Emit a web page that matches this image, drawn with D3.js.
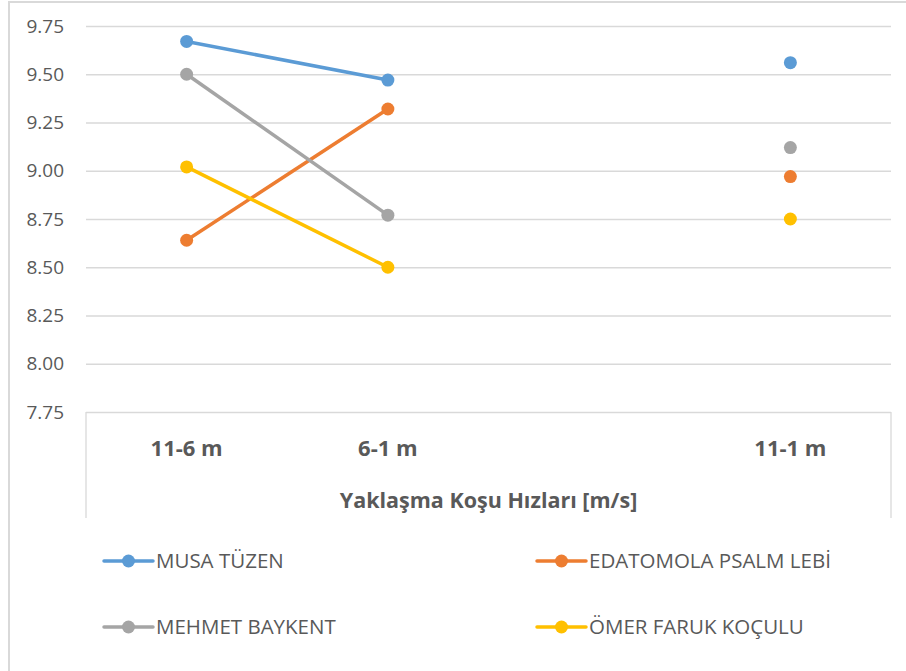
<!DOCTYPE html>
<html>
<head>
<meta charset="utf-8">
<script src="https://cdn.jsdelivr.net/npm/d3@7"></script>
<style>
  body { margin: 0; background: #fff; }
  svg { display: block; font-family: "Open Sans", sans-serif; }
</style>
</head>
<body>
<div id="chart"></div>
<script>
// categories (the empty one is the gap before 11-1 m)
var categories = ["11-6 m", "6-1 m", "", "11-1 m"];
var seriesNames = ["MUSA TÜZEN", "EDATOMOLA PSALM LEBİ", "MEHMET BAYKENT", "ÖMER FARUK KOÇULU"];
var musa = [9.67, 9.47, null, 9.56];
var edatomola = [8.64, 9.32, null, 8.97];
var mehmet = [9.50, 8.77, null, 9.12];
var omer = [9.02, 8.50, null, 8.75];
var yTicks = [7.75, 8.00, 8.25, 8.50, 8.75, 9.00, 9.25, 9.50, 9.75];
var xTitle = "Yaklaşma Koşu Hızları [m/s]";

var colors = ["#5b9bd5", "#ed7d31", "#a5a5a5", "#ffc000"];
var allSeries = [musa, edatomola, mehmet, omer];

var W = 906, H = 671;
var plot = { left: 86, right: 891, top: 26, bottom: 412 };
var textColor = "#595959";
var gridColor = "#d9d9d9";

var svg = d3.select("#chart").append("svg")
    .attr("width", W)
    .attr("height", H);

// outer frame (runs past the window on the right and bottom)
svg.append("rect")
    .attr("x", 9).attr("y", 2)
    .attr("width", 1000).attr("height", 1000)
    .attr("fill", "#fff")
    .attr("stroke", gridColor)
    .attr("stroke-width", 2);

var x = d3.scaleBand()
    .domain(categories.map(function(d, i) { return i; }))
    .range([plot.left, plot.right])
    .padding(0);

var y = d3.scaleLinear()
    .domain([7.75, 9.75])
    .range([plot.bottom, plot.top]);

// gridlines + y labels
var yAxis = d3.axisLeft(y)
    .tickValues(yTicks)
    .tickFormat(d3.format(".2f"))
    .tickSize(-(plot.right - plot.left))
    .tickPadding(22);

var gy = svg.append("g")
    .attr("transform", "translate(" + plot.left + ",0)")
    .call(yAxis)
    .attr("font-family", null);
gy.select(".domain").remove();
gy.selectAll("line").attr("stroke", gridColor).attr("stroke-width", 1.3);
gy.selectAll("text")
    .attr("fill", textColor)
    .style("font-size", "19px");

// box under the plot that holds the category labels and title
var boxBottom = 518;
svg.append("path")
    .attr("d", "M" + plot.left + "," + boxBottom + "V" + plot.bottom + "M" + plot.right + "," + plot.bottom + "V" + boxBottom)
    .attr("fill", "none")
    .attr("stroke", gridColor)
    .attr("stroke-width", 1.3);

// category labels
var xAxis = d3.axisBottom(x)
    .tickFormat(function(i) { return categories[i]; })
    .tickSize(0)
    .tickPadding(28);

var gx = svg.append("g")
    .attr("transform", "translate(0," + plot.bottom + ")")
    .call(xAxis)
    .attr("font-family", null);
gx.select(".domain").remove();
gx.selectAll("text")
    .attr("fill", textColor)
    .style("font-size", "22px")
    .style("font-weight", "bold");

svg.append("text")
    .attr("x", (plot.left + plot.right) / 2)
    .attr("y", 508)
    .attr("text-anchor", "middle")
    .attr("fill", textColor)
    .style("font-size", "21.5px")
    .style("font-weight", "bold")
    .text(xTitle);

// lines and markers
var line = d3.line()
    .defined(function(d) { return d.v != null; })
    .x(function(d) { return x(d.i) + x.bandwidth() / 2; })
    .y(function(d) { return y(d.v); });

allSeries.forEach(function(vals, s) {
    var pts = vals.map(function(v, i) { return { i: i, v: v }; });
    svg.append("path")
        .datum(pts)
        .attr("d", line)
        .attr("fill", "none")
        .attr("stroke", colors[s])
        .attr("stroke-width", 3.5)
        .attr("stroke-linejoin", "round");
    svg.selectAll(".dot" + s)
        .data(pts.filter(function(d) { return d.v != null; }))
        .enter()
        .append("circle")
        .attr("cx", function(d) { return x(d.i) + x.bandwidth() / 2; })
        .attr("cy", function(d) { return y(d.v); })
        .attr("r", 6.5)
        .attr("fill", colors[s]);
});

// legend
var legendX = [104, 537];
var legendY = [561, 627];
seriesNames.forEach(function(name, s) {
    var lx = legendX[s % 2], ly = legendY[Math.floor(s / 2)];
    var g = svg.append("g").attr("transform", "translate(" + lx + "," + ly + ")");
    g.append("line")
        .attr("x1", 0).attr("x2", 49)
        .attr("stroke", colors[s])
        .attr("stroke-width", 3.5)
        .attr("stroke-linecap", "round");
    g.append("circle")
        .attr("cx", 24.5).attr("r", 6.5)
        .attr("fill", colors[s]);
    g.append("text")
        .attr("x", 52)
        .attr("dy", "0.35em")
        .attr("fill", textColor)
        .style("font-size", "20.5px")
        .text(name);
});
</script>
</body>
</html>
